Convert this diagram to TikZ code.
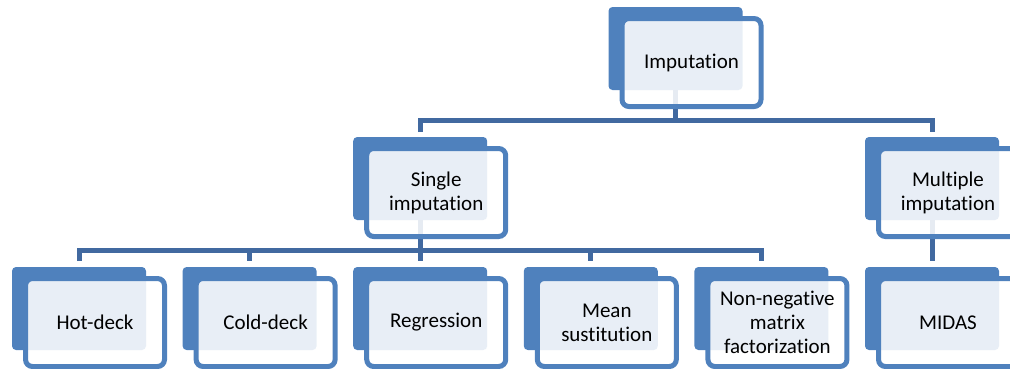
\documentclass[tikz,border=0pt]{standalone}
\usepackage{fontspec}
\setmainfont{Carlito}[Ligatures={NoCommon}]
\usetikzlibrary{calc}
\definecolor{accent}{HTML}{4F81BD}
\definecolor{conn}{HTML}{4169A0}
\tikzset{
  backbox/.style={anchor=north west, fill=accent, draw=none, rounded corners=4pt,
    minimum width=134pt, minimum height=83pt, inner sep=0pt, outer sep=0pt},
  frontbox/.style={anchor=center, draw=accent, line width=5pt, fill=white,
    fill opacity=0.87, text opacity=1, draw opacity=1, rounded corners=7pt,
    minimum width=139pt, minimum height=88pt, inner sep=0pt, outer sep=0pt,
    align=center, font=\fontsize{21}{24}\selectfont, text=black},
  link/.style={draw=conn, line width=5pt},
}
\begin{document}
\begin{tikzpicture}[x=1pt,y=-1pt]
\clip (0,0) rectangle (1010,368);
% back rectangles
\node[backbox] (imp-b) at (608.5,7) {};
\node[backbox] (single-b) at (353.2,137) {};
\node[backbox] (multi-b) at (865,137) {};
\node[backbox] (hot-b) at (12,267) {};
\node[backbox] (cold-b) at (182.6,267) {};
\node[backbox] (reg-b) at (353.2,267) {};
\node[backbox] (mean-b) at (523.8,267) {};
\node[backbox] (nnmf-b) at (694.4,267) {};
\node[backbox] (midas-b) at (865,267) {};
% connectors
\coordinate (h0) at ($(imp-b.south)+(0,30.5)$);
\coordinate (h1) at ($(single-b.south)+(0,30.5)$);
\draw[link] (imp-b.south) -- (h0);
\draw[link] ($(single-b.north)+(0,-5)$) |- (h0) -| ($(multi-b.north)+(0,-5)$);
\draw[link] (single-b.south) -- (h1);
\draw[link] ($(hot-b.north)+(0,-6)$) |- (h1) -| ($(nnmf-b.north)+(0,-6)$);
\draw[link] (cold-b.north |- h1) -- ($(cold-b.north)+(0,-6)$);
\draw[link] (reg-b.north |- h1) -- ($(reg-b.north)+(0,-6)$);
\draw[link] (mean-b.north |- h1) -- ($(mean-b.north)+(0,-6)$);
\draw[link] (multi-b.south) -- ($(midas-b.north)+(0,-6)$);
% front rectangles with text
\node[frontbox] (imp) at ($(imp-b.north west)+(83,55.5)$) {Imputation};
\node[frontbox] (single) at ($(single-b.north west)+(83,55.5)$) {Single\\imputation};
\node[frontbox] (multi) at ($(multi-b.north west)+(83,55.5)$) {Multiple\\imputation};
\node[frontbox] (hot) at ($(hot-b.north west)+(83,55.5)$) {Hot-deck};
\node[frontbox] (cold) at ($(cold-b.north west)+(83,55.5)$) {Cold-deck};
\node[frontbox] (reg) at ($(reg-b.north west)+(83,55.5)$) {Regression};
\node[frontbox] (mean) at ($(mean-b.north west)+(83,55.5)$) {Mean\\sustitution};
\node[frontbox] (nnmf) at ($(nnmf-b.north west)+(83,55.5)$) {Non-negative\\matrix\\factorization};
\node[frontbox] (midas) at ($(midas-b.north west)+(83,55.5)$) {MIDAS};
\end{tikzpicture}
\end{document}
